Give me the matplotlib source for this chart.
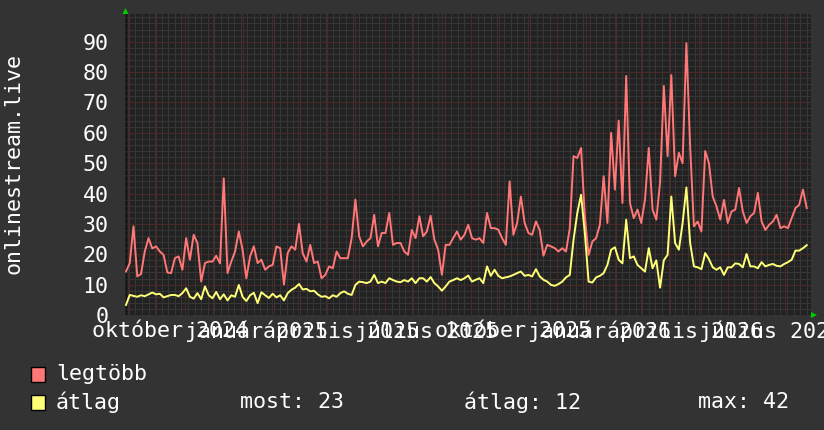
import numpy as np
import pandas as pd
import matplotlib
matplotlib.use("Agg")
import matplotlib.pyplot as plt
import matplotlib.transforms as mtransforms
from matplotlib.patches import Rectangle, Polygon

# ---------------- data ----------------
start_date = "2024-08-30"
step = "4D"

legtobb = [
    14.3, 17.1, 29.2, 12.7, 13.5, 20.9, 25.3, 21.9, 22.6, 20.9, 19.8, 14, 13.8, 18.7, 19.3, 14.9,
    25.3, 18.2, 26.4, 23.7, 11, 17.1, 17.6, 17.6, 19.5, 17, 45, 13.8, 17.6, 20.9, 27.5, 21.5,
    12.1, 19.3, 22.6, 17.1, 18.2, 14.9, 16, 16.5, 22.6, 22, 10, 20.4, 22.6, 21.5, 30,
    20.3, 17.6, 23.1, 17.1, 17.6, 12.1, 13.2, 16, 15.4, 20.9, 18.7, 18.7, 18.7, 25.3, 38, 25.9,
    22.6, 24.2, 25.3, 33, 22.6, 27, 27, 33.6, 23.1, 23.7, 23.7, 20.9, 19.8, 28, 25.3, 32.5,
    25.9, 27.5, 32.7, 24.8, 21.5, 13.2, 23.1, 23.1, 25.3, 27.5, 24.8, 26.4, 29.7, 25.3,
    24.8, 25.3, 23.7, 33.6, 28.6, 28.6, 28.1, 25.3, 23.1, 44, 26.4, 30.3, 39, 30.3, 27, 26.4,
    30.8, 28, 19.5, 23.1, 22.6, 22, 20.9, 22, 20.9, 28.6, 52.3, 51.7, 55, 32.5, 19.8, 24.2,
    25.3, 29.7, 45.7, 30.3, 60, 41.3, 64, 36.9, 78.7, 36.9, 31.9, 34.7, 30.3, 38,
    55, 34.7, 31.4, 43.5, 75.4, 52.3, 79, 45.7, 53.4, 50, 89.5, 55.6, 29.2, 30.8, 27.5, 54,
    50, 39, 35.8, 31.4, 37.9, 30.3, 34.1, 34.7, 41.8, 34.1, 30.3, 32.5, 33.6, 40.2, 30.8, 28,
    29.7, 30.8, 33, 28.6, 29.2, 28.6, 31.9, 35.2, 36.3, 41.3, 35.2,
]

atlag = [
    3.3, 6.6, 6.3, 6.0, 6.5, 6.2, 6.8, 7.4, 6.8, 7.0, 5.8, 6.2, 6.6, 6.6, 6.2, 7.2,
    8.8, 6.0, 5.4, 7.2, 5.2, 9.4, 6.5, 5.5, 7.6, 5.2, 6.8, 4.8, 6.5, 6.0, 9.9, 6.0,
    4.6, 6.5, 7.3, 3.9, 7.5, 6.5, 5.6, 7.0, 5.8, 6.5, 4.8, 7.2, 8.3, 9.0, 10.2,
    8.4, 8.6, 7.8, 8.0, 6.8, 6.0, 6.2, 5.5, 6.5, 6.0, 7.2, 7.8, 7.0, 6.6, 9.9, 11.0,
    10.8, 10.5, 11.0, 13.2, 10.5, 11.0, 10.5, 12.1, 11.5, 11.0, 10.8, 11.5, 11.0, 12.1, 10.5, 12.1,
    12.1, 11.0, 12.5, 10.5, 9.4, 8.0, 9.4, 11.0, 11.5, 12.1, 11.5, 12.1, 13.0, 11.0,
    11.6, 12.1, 10.5, 16, 12.9, 14.9, 12.9, 12.1, 12.4, 12.7, 13.2, 13.8, 14.3, 12.9, 13.2, 12.7,
    15.1, 12.7, 11.6, 11, 9.9, 9.6, 10.2, 11, 12.4, 13.2, 24.8, 33.6, 39.6, 27, 11, 10.7,
    12.4, 12.9, 13.8, 16.5, 21.5, 22.3, 18.2, 17, 31.4, 18.7, 19.3, 16.5, 15.4, 14.3,
    22, 15.4, 18, 9, 18, 19.8, 39, 23.7, 21.5, 30.3, 42, 23.7, 16, 15.7, 15.1, 20.4,
    18.4, 15.7, 14.9, 15.7, 13.2, 15.7, 15.7, 17, 16.8, 15.7, 20.1, 16, 16, 15.4, 17.4, 16,
    16.5, 16.8, 16.2, 16, 16.8, 17.4, 18.2, 21.2, 21.2, 22, 23,
]

month_labels = ["október 2024", "január 2025", "április 2025", "július 2025",
                "október 2025", "január 2026", "április 2026", "július 2026"]
label_dates = ["2024-10-16", "2025-01-16", "2025-04-16", "2025-07-16",
               "2025-10-16", "2026-01-16", "2026-04-16", "2026-07-16"]
y_ticks = [0, 10, 20, 30, 40, 50, 60, 70, 80, 90]
series_names = ["legtöbb", "átlag"]
stats_text = ["most: 23", "átlag: 12", "max: 42"]
y_title = "onlinestream.live"

# ---------------- style ----------------
W, H = 824, 430
BG = "#333333"
CANVAS = "#222222"
RED = "#ff7777"
YEL = "#ffff77"
MINOR = "#363636"
MAJOR = "#4a2828"
FONT = "DejaVu Sans Mono"
FS = 15.6

plt.rcParams["font.family"] = [FONT, "DejaVu Sans"]

fig = plt.figure(figsize=(W / 100, H / 100), dpi=100, facecolor=BG)

L, R, T, B = 125.5, 810.5, 14.0, 315.0
ax = fig.add_axes([L / W, 1 - B / H, (R - L) / W, (B - T) / H])
ax.set_facecolor(CANVAS)

dates = pd.date_range(start_date, periods=len(legtobb), freq=step)

x0 = pd.Timestamp("2024-08-29 12:00")
x1 = pd.Timestamp("2026-08-28")
ax.set_xlim(x0, x1)
ax.set_ylim(0, (B - T) / 3.037)

# grid (dotted 1px in the original; drawn as thin lines of the averaged tone)
gkw = dict(lw=0.72, ls="-", antialiased=False)
for v in np.arange(2, 100, 2):
    if v % 10:
        ax.axhline(v, color=MINOR, zorder=1, **gkw)
for d in pd.date_range("2024-09-02", x1, freq="7D"):
    ax.axvline(d, color=MINOR, zorder=1, **gkw)
for v in y_ticks:
    ax.axhline(v, color=MAJOR, zorder=1.5, **gkw)
for d in pd.date_range("2024-09-01", x1, freq="MS"):
    ax.axvline(d, color=MAJOR, zorder=1.5, **gkw)

ax.plot(dates, legtobb, color=RED, lw=1.4, zorder=3)
ax.plot(dates, atlag, color=YEL, lw=1.4, zorder=4)

for s in ax.spines.values():
    s.set_visible(False)
ax.axhline(0, color="#151515", lw=1.0, zorder=2)
ax.axvline(x0, color="#151515", lw=1.0, zorder=2)

ax.set_xticks([])
ax.set_yticks(y_ticks)
ax.set_yticklabels([str(v) for v in y_ticks], color="white", fontsize=FS)
ax.tick_params(axis="y", length=0, pad=12)

trans = mtransforms.blended_transform_factory(ax.transData, ax.transAxes)
for d, lab in zip(label_dates, month_labels):
    ax.text(pd.Timestamp(d), -(331 - B) / (B - T), lab, transform=trans,
            ha="center", va="center", color="white", fontsize=FS, clip_on=False)

fig.text(14 / W, 1 - 164 / H, y_title, rotation=90, ha="center", va="center",
         color="white", fontsize=FS)

# arrows
def px(x, y):
    return (x / W, 1 - y / H)

fig.patches.append(Polygon([px(122.5, 14), px(128.5, 14), px(125.5, 8)], closed=True,
                           transform=fig.transFigure, facecolor="#00cc00", edgecolor="none"))
fig.patches.append(Polygon([px(811, 312), px(811, 318), px(817, 315)], closed=True,
                           transform=fig.transFigure, facecolor="#00cc00", edgecolor="none"))

# legend
for (yc, col, name) in [(374.5, RED, series_names[0]), (402.5, YEL, series_names[1])]:
    fig.patches.append(Rectangle(px(31, yc + 7.5), 14 / W, 15 / H, transform=fig.transFigure,
                                 facecolor=col, edgecolor="black", lw=1.0))
    fig.text(56 / W, 1 - yc / H, name, ha="left", va="center", color="white", fontsize=FS)

for xs, t in zip([240, 464, 698], stats_text):
    fig.text(xs / W, 1 - 402.5 / H, t, ha="left", va="center", color="white", fontsize=FS)

fig.savefig("out.png", dpi=100, facecolor=BG)
